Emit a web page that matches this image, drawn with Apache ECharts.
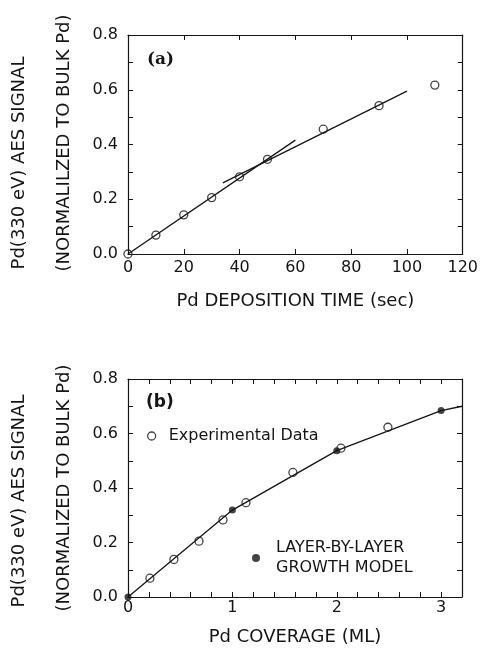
<!DOCTYPE html>
<html>
<head>
<meta charset="utf-8">
<script src="https://cdn.jsdelivr.net/npm/echarts@6/dist/echarts.min.js"></script>
<style>
  html, body { margin: 0; padding: 0; background: #fff; }
  #chart { width: 481px; height: 653px; }
</style>
</head>
<body>
<div id="chart"></div>
<script>
// panel (a): signal vs deposition time
const timeSec = [0, 10, 20, 30, 40, 50, 70, 90, 110];
const signalA = [0, 0.069, 0.143, 0.206, 0.282, 0.346, 0.456, 0.542, 0.617];
const fitEarlyX = [0, 60];
const fitEarlyY = [0, 0.416];
const fitLateX = [34, 100];
const fitLateY = [0.26, 0.595];

// panel (b): signal vs coverage
const coverageML = [0.21, 0.44, 0.68, 0.91, 1.13, 1.58, 2.04, 2.49];
const signalB = [0.069, 0.138, 0.205, 0.283, 0.346, 0.457, 0.546, 0.623];
const modelML = [0, 1, 2, 3];
const modelSignal = [0, 0.319, 0.537, 0.684];
const curveML = [0, 1, 2, 3, 3.2];
const curveSignal = [0, 0.319, 0.537, 0.684, 0.70];

const ink = '#151515';
const font = 'DejaVu Sans';

const pairs = (xs, ys) => xs.map((x, i) => [x, ys[i]]);

const yLabel = (v) => (Math.round(v * 10) % 2 === 0 ? v.toFixed(1) : '');
const intLabel = (v) => (Math.abs(v - Math.round(v)) < 1e-6 ? String(Math.round(v)) : '');

function frameAxis(extra) {
  return Object.assign({
    type: 'value',
    axisLine: { show: true, onZero: false, lineStyle: { color: ink, width: 1.2 } },
    axisTick: { show: true, inside: true, length: 5, lineStyle: { color: ink, width: 1 } },
    splitLine: { show: false },
    axisLabel: { show: false },
  }, extra);
}

const labelStyle = { color: ink, fontFamily: font, fontSize: 16 };

const chart = echarts.init(document.getElementById('chart'), null, { renderer: 'canvas' });

const openCircle = { color: 'rgba(255,255,255,0)', borderColor: ink, borderWidth: 1.3 };

const option = {
  backgroundColor: '#fff',
  animation: false,
  grid: [
    { left: 128, top: 35, width: 336, height: 219 },
    { left: 128, top: 379, width: 334, height: 218 },
  ],
  xAxis: [
    frameAxis({
      gridIndex: 0, min: 0, max: 120, interval: 20, position: 'bottom',
      axisLabel: Object.assign({ show: true, margin: 6 }, labelStyle),
      name: 'Pd DEPOSITION TIME (sec)', nameLocation: 'middle', nameGap: 47,
      nameTextStyle: { color: ink, fontFamily: font, fontSize: 18, verticalAlign: 'middle' },
    }),
    frameAxis({ gridIndex: 0, min: 0, max: 120, interval: 20, position: 'top' }),
    frameAxis({
      gridIndex: 1, min: 0, max: 3.2, interval: 0.2, position: 'bottom',
      axisLabel: Object.assign({ show: true, margin: 3, formatter: intLabel }, labelStyle),
      name: 'Pd COVERAGE (ML)', nameLocation: 'middle', nameGap: 40,
      nameTextStyle: { color: ink, fontFamily: font, fontSize: 18, verticalAlign: 'middle' },
    }),
    frameAxis({ gridIndex: 1, min: 0, max: 3.2, interval: 0.2, position: 'top' }),
  ],
  yAxis: [
    frameAxis({
      gridIndex: 0, min: 0, max: 0.8, interval: 0.1, position: 'left',
      axisLabel: Object.assign({ show: true, margin: 10, formatter: yLabel }, labelStyle),
    }),
    frameAxis({ gridIndex: 0, min: 0, max: 0.8, interval: 0.1, position: 'right' }),
    frameAxis({
      gridIndex: 1, min: 0, max: 0.8, interval: 0.1, position: 'left',
      axisLabel: Object.assign({ show: true, margin: 10, formatter: yLabel }, labelStyle),
    }),
    frameAxis({ gridIndex: 1, min: 0, max: 0.8, interval: 0.1, position: 'right' }),
  ],
  title: [
    { text: '(a)', left: 147, top: 51, padding: 0,
      textStyle: { color: ink, fontFamily: 'DejaVu Serif', fontWeight: 'bold', fontSize: 17 } },
    { text: '(b)', left: 146, top: 394, padding: 0,
      textStyle: { color: ink, fontFamily: font, fontWeight: 'bold', fontSize: 17 } },
  ],
  legend: [
    {
      data: [{ name: 'Experimental Data', icon: 'circle', itemStyle: openCircle }],
      left: 147, top: 428, padding: 0, itemWidth: 8, itemHeight: 8,
      selectedMode: false,
      textStyle: { color: ink, fontFamily: font, fontSize: 16, padding: [0, 0, 0, 8] },
    },
    {
      data: [{ name: 'Layer-by-layer', icon: 'circle', itemStyle: { color: ink } }],
      left: 252, top: 538, padding: 0, itemWidth: 8, itemHeight: 8,
      selectedMode: false,
      formatter: () => 'LAYER-BY-LAYER\nGROWTH MODEL',
      textStyle: { color: ink, fontFamily: font, fontSize: 16, lineHeight: 20, padding: [0, 0, 0, 11] },
    },
  ],
  graphic: [
    { type: 'text', x: 19, y: 163, rotation: Math.PI / 2,
      style: { text: 'Pd(330 eV) AES SIGNAL', fill: ink, font: '18px "DejaVu Sans"', textAlign: 'center', textVerticalAlign: 'middle' } },
    { type: 'text', x: 64, y: 143, rotation: Math.PI / 2,
      style: { text: '(NORMALILZED TO BULK Pd)', fill: ink, font: '18px "DejaVu Sans"', textAlign: 'center', textVerticalAlign: 'middle' } },
    { type: 'text', x: 19, y: 501, rotation: Math.PI / 2,
      style: { text: 'Pd(330 eV) AES SIGNAL', fill: ink, font: '18px "DejaVu Sans"', textAlign: 'center', textVerticalAlign: 'middle' } },
    { type: 'text', x: 64, y: 488, rotation: Math.PI / 2,
      style: { text: '(NORMALIZED TO BULK Pd)', fill: ink, font: '18px "DejaVu Sans"', textAlign: 'center', textVerticalAlign: 'middle' } },
  ],
  series: [
    {
      type: 'line', xAxisIndex: 0, yAxisIndex: 0, data: pairs(fitEarlyX, fitEarlyY),
      showSymbol: false, lineStyle: { color: ink, width: 1.3 },
    },
    {
      type: 'line', xAxisIndex: 0, yAxisIndex: 0, data: pairs(fitLateX, fitLateY),
      showSymbol: false, lineStyle: { color: ink, width: 1.3 },
    },
    {
      name: 'Panel a data', type: 'scatter', xAxisIndex: 0, yAxisIndex: 0,
      data: pairs(timeSec, signalA), symbol: 'circle', symbolSize: 8, itemStyle: openCircle,
    },
    {
      type: 'line', xAxisIndex: 2, yAxisIndex: 2, data: pairs(curveML, curveSignal),
      showSymbol: false, lineStyle: { color: ink, width: 1.3 },
    },
    {
      name: 'Experimental Data', type: 'scatter', xAxisIndex: 2, yAxisIndex: 2,
      data: pairs(coverageML, signalB), symbol: 'circle', symbolSize: 8, itemStyle: openCircle,
    },
    {
      name: 'Layer-by-layer', type: 'scatter', xAxisIndex: 2, yAxisIndex: 2,
      data: pairs(modelML, modelSignal), symbol: 'circle', symbolSize: 7, itemStyle: { color: ink },
    },
  ],
};

chart.setOption(option);
</script>
</body>
</html>
